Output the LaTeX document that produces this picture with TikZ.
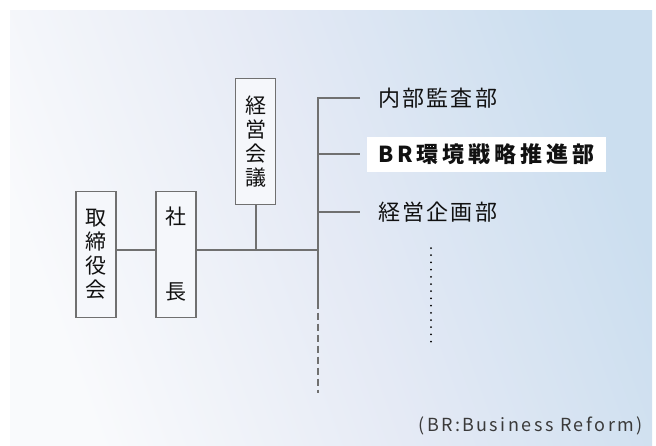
\documentclass[tikz,border=0pt]{standalone}
\usepackage{fontspec}
\newfontfamily\jp{Noto Sans CJK JP}[LetterSpace=10]
\newfontfamily\jpw{Noto Sans CJK JP}[LetterSpace=18]
\newfontfamily\jpn{Noto Sans CJK JP}[LetterSpace=12]
\newfontfamily\jpnote{Noto Sans CJK JP}[LetterSpace=14]
\definecolor{bgL}{HTML}{F9FAFC}
\definecolor{bgM}{HTML}{E5EAF5}
\definecolor{bgR}{HTML}{CBDEEF}
\definecolor{linegray}{HTML}{707070}
\definecolor{boxfill}{HTML}{F5F7FB}
\definecolor{txt}{HTML}{111111}
\definecolor{notegray}{HTML}{3A3A3A}
\tikzset{
  orgbox/.style={draw=linegray, line width=1.3pt, fill=boxfill, minimum width=40pt,
    minimum height=126pt, inner sep=0pt, align=center, text=txt,
    font=\jpn\fontsize{21}{24}\selectfont},
  conn/.style={draw=linegray, line width=2pt},
  dept/.style={anchor=west, inner sep=0pt, text=txt, font=\jp\fontsize{22}{24}\selectfont},
}
\begin{document}
\begin{tikzpicture}[x=1pt, y=-1pt]
\useasboundingbox (0,0) rectangle (656,445);
\shade[left color=bgL, right color=bgR, middle color=bgM, shading angle=110] (10,10) rectangle (652,445);

\node[orgbox] (tori) at (95.9,254.5) {取\\締\\役\\会};
\node[orgbox] (sha) at (175.9,254.5) {社\\[51pt]長};
\node[orgbox] (kaigi) at (255.7,141.3) {経\\営\\会\\議};

\coordinate (top) at (318.3,98.3);
\coordinate (j) at (318.3,250);
\coordinate (solidend) at (318.3,301.7);
\coordinate (dashend) at (318.3,393);

\node[dept] (d1) at (378,98.3) {内部監査部};
\node[anchor=west, fill=white, inner xsep=11.3pt, inner ysep=0pt, minimum height=35pt, minimum width=239pt,
      text=txt, font=\jpw\bfseries\fontsize{22}{24}\selectfont] (d2) at (366.7,154.3) {BR環境戦略推進部\hfill};
\node[dept] (d3) at (378,211.7) {経営企画部};

\draw[conn] ([xshift=-18pt]d1.west) -- (top) -- (solidend);
\draw[conn] (top |- d2) -- ([xshift=-6.7pt]d2.west);
\draw[conn] (top |- d3) -- ([xshift=-18pt]d3.west);
\draw[conn, dash pattern=on 7pt off 4pt] (solidend) -- (dashend);

\draw[conn] (tori.east |- j) -- (sha.west |- j);
\draw[conn] (sha.east |- j) -- (j);
\draw[conn] (kaigi.south) -- (kaigi.south |- j);

\coordinate (dotA) at (431,248);
\coordinate (dotB) at (431,342);
\draw[black, line width=2pt, line cap=round, dash pattern=on 0pt off 7.2pt] (dotA) -- (dotB);

\node[anchor=base east, inner sep=0pt, text=notegray, font=\jpnote\fontsize{18}{20}\selectfont] (note) at (643,431.7) {(BR\kern2pt:\kern2pt Business Reform)};
\end{tikzpicture}
\end{document}
